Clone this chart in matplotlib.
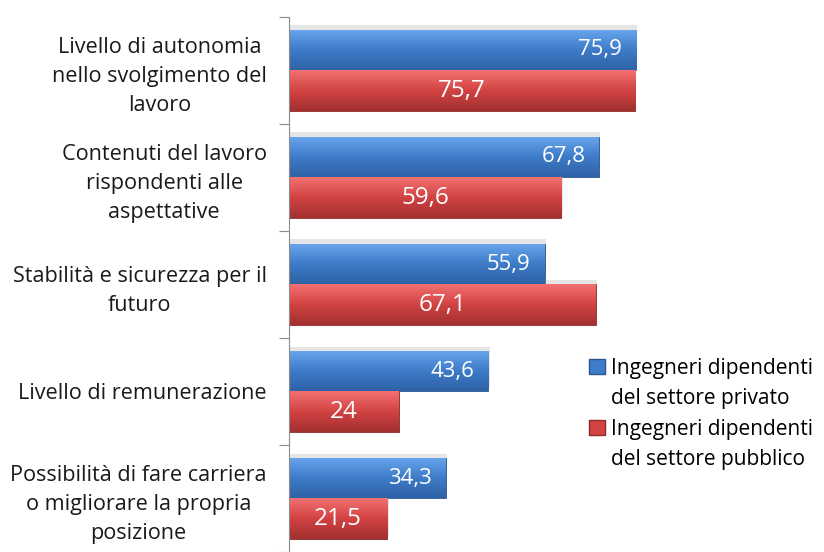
import numpy as np
import matplotlib
matplotlib.use("Agg")
import matplotlib.pyplot as plt
import matplotlib.patheffects as pe
from matplotlib.patches import Patch

# data
categories = [
    "Livello di autonomia\nnello svolgimento del\nlavoro",
    "Contenuti del lavoro\nrispondenti alle\naspettative",
    "Stabilità e sicurezza per il\nfuturo",
    "Livello di remunerazione",
    "Possibilità di fare carriera\no migliorare la propria\nposizione",
]
privato = [75.9, 67.8, 55.9, 43.6, 34.3]
pubblico = [75.7, 59.6, 67.1, 24.0, 21.5]
labels_privato = ["75,9", "67,8", "55,9", "43,6", "34,3"]
labels_pubblico = ["75,7", "59,6", "67,1", "24", "21,5"]
series_names = [("Ingegneri dipendenti", "del settore privato"),
                ("Ingegneri dipendenti", "del settore pubblico")]

plt.rcParams['font.family'] = ['Open Sans', 'DejaVu Sans']

fig = plt.figure(figsize=(8.24, 5.52), dpi=100)
ax = fig.add_axes([289 / 824, 0, 1 - 289 / 824, 1])

y = np.arange(len(categories))
h = 0.38
blue_cols = ["#6aa6ee", "#3e7cc9", "#2f62a6"]
red_cols = ["#f27070", "#d24343", "#a32f2f"]


def gradient_fill(bars, cols):
    cmap = matplotlib.colors.LinearSegmentedColormap.from_list("g", cols[::-1])
    grad = np.linspace(0, 1, 64).reshape(-1, 1)
    for b in bars:
        x0, y0 = b.get_x(), b.get_y()
        w, hh = b.get_width(), b.get_height()
        # y axis inverted: top of bar is y0
        im = ax.imshow(grad, cmap=cmap, aspect="auto",
                       extent=[x0, x0 + w, y0 + hh, y0], origin="lower",
                       zorder=2, interpolation="bilinear")
        im.set_clip_path(b)


shadow = [pe.SimplePatchShadow(offset=(1, 3), shadow_rgbFace="#aaaaaa", alpha=0.3), pe.Normal()]
b1 = ax.barh(y - h / 2, privato, height=h, color=blue_cols[1], edgecolor="#2b5590",
             linewidth=0.6, zorder=2, path_effects=shadow)
b2 = ax.barh(y + h / 2, pubblico, height=h, color=red_cols[1], edgecolor="#8c2a2a",
             linewidth=0.6, zorder=2, path_effects=shadow)
gradient_fill(b1, blue_cols)
gradient_fill(b2, red_cols)

for i in range(len(categories)):
    ax.text(privato[i] - 3.0, y[i] - h / 2, labels_privato[i], ha="right", va="center",
            color="white", fontsize=16, zorder=5)
    ax.text(pubblico[i] / 2, y[i] + h / 2, labels_pubblico[i], ha="center", va="center",
            color="white", fontsize=17.5, zorder=5)

ax.set_xlim(0, (824 - 289) / 4.572)
ax.set_ylim((552 - 71) / 108.25, -71 / 108.25)

for s in ["top", "right", "bottom"]:
    ax.spines[s].set_visible(False)
ax.spines["left"].set_color("#8c8c8c")
ax.spines["left"].set_bounds(-0.5, len(categories) - 0.5)
ax.set_xticks([])

ax.set_yticks(np.arange(len(categories) + 1) - 0.5)
ax.set_yticklabels([])
ax.tick_params(axis="y", which="major", length=7, color="#8c8c8c", direction="out")
ax.set_yticks(y, minor=True)
ax.set_yticklabels(categories, minor=True, fontsize=15.6, color="#1a1a1a",
                   multialignment="center", linespacing=1.5)
ax.tick_params(axis="y", which="minor", length=0, pad=16)

# legend: one row per text line, marker only on the first line of each entry
handles, texts = [], []
for col, edge, (l1, l2) in zip([blue_cols[1], red_cols[1]], ["#2b5590", "#8c2a2a"], series_names):
    handles += [Patch(facecolor=col, edgecolor=edge), Patch(alpha=0)]
    texts += [l1, l2]
fig.legend(handles, texts, loc="center left", bbox_to_anchor=(579 / 824, 1 - 414 / 552),
           frameon=False, fontsize=15.0, handlelength=0.75, handleheight=0.75,
           handletextpad=0.3, labelspacing=0.45, borderpad=0)

plt.savefig("out.png", dpi=100)
